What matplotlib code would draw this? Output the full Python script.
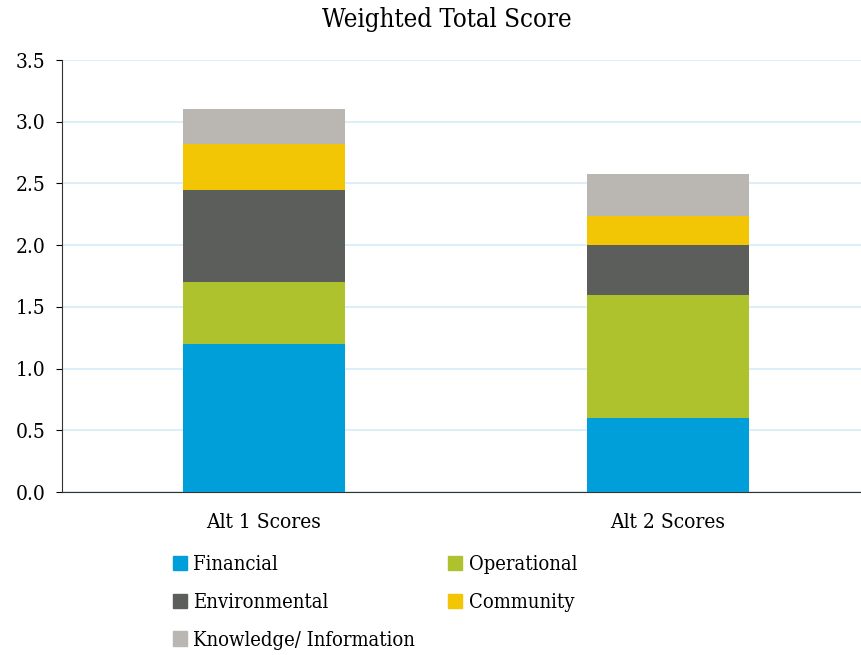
import matplotlib.pyplot as plt
import numpy as np
from matplotlib.patches import Patch

# data
alts = ['Alt 1 Scores', 'Alt 2 Scores']
categories = ['Financial', 'Operational', 'Environmental', 'Community', 'Knowledge/ Information']
financial = [1.20, 0.60]
operational = [0.50, 1.00]
environmental = [0.75, 0.40]
community = [0.37, 0.24]
knowledge = [0.28, 0.34]
colors = ['#009FD9', '#ADC22C', '#5C5E5B', '#F2C605', '#BAB7B2']

plt.rcParams['font.family'] = ['DejaVu Serif']
plt.rcParams['font.stretch'] = 'condensed'

fig = plt.figure(figsize=(8.62, 6.55), dpi=100)
ax = fig.add_axes([62/862, 1-492/655, 800/862, 432/655])

x = np.arange(len(alts))
bottom = np.zeros(len(alts))
for vals, c in zip([financial, operational, environmental, community, knowledge], colors):
    ax.bar(x, vals, 0.4, bottom=bottom, color=c, zorder=3)
    bottom += np.array(vals)

ax.set_ylim(0, 3.5)
ax.set_xlim(-0.5, 1.48)
ax.set_yticks(np.arange(0, 3.51, 0.5))
ax.set_yticklabels(['%.1f' % v for v in np.arange(0, 3.51, 0.5)], fontsize=15)
ax.set_xticks(x)
ax.set_xticklabels(alts, fontsize=15)
ax.tick_params(axis='x', length=0, pad=15)
ax.tick_params(axis='y', length=4, pad=8)
ax.grid(axis='y', color='#D6EBF7', linewidth=1.2, zorder=0)
ax.spines['top'].set_visible(False)
ax.spines['right'].set_visible(False)
ax.spines['left'].set_color('#333333')
ax.spines['bottom'].set_color('#333333')

fig.text(447/862, 1-19/655, 'Weighted Total Score', ha='center', va='center', fontsize=18.5)

# legend filled row by row: Financial | Operational, Environmental | Community, Knowledge
order = [0, 2, 4, 1, 3]
handles = [Patch(color=colors[i]) for i in order]
labels = [categories[i] for i in order]
fig.legend(handles, labels, loc='upper left', bbox_to_anchor=(155/862, 1-537/655),
           ncol=2, frameon=False, fontsize=14.5, handlelength=0.7, handleheight=0.7,
           handletextpad=0.3, columnspacing=1.65, labelspacing=0.93)

fig.savefig('out.png', dpi=100)
